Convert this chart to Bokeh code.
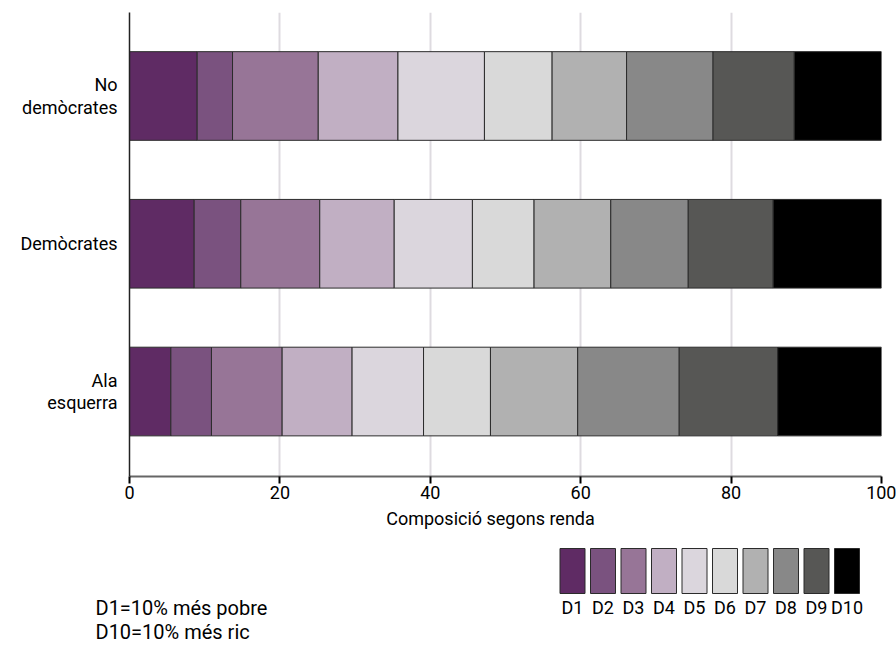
from bokeh.plotting import figure
from bokeh.models import Range1d, ColumnDataSource, FixedTicker
from bokeh.layouts import column
from bokeh.embed import file_html
from bokeh.resources import INLINE
from bokeh.core.properties import value

# ---------------- data ----------------
categories = ["No demòcrates", "Demòcrates", "Ala esquerra"]
category_labels = ["No\ndemòcrates", "Demòcrates", "Ala\nesquerra"]
deciles = ["D1", "D2", "D3", "D4", "D5", "D6", "D7", "D8", "D9", "D10"]
no_democrates = [9.0, 4.7, 11.4, 10.6, 11.5, 9.0, 9.9, 11.5, 10.8, 11.6]
democrates = [8.6, 6.2, 10.5, 9.9, 10.4, 8.2, 10.2, 10.3, 11.3, 14.4]
ala_esquerra = [5.5, 5.4, 9.4, 9.3, 9.5, 8.9, 11.6, 13.5, 13.1, 13.8]
x_ticks = [0, 20, 40, 60, 80, 100]
x_title = "Composició segons renda"
notes = ["D1=10% més pobre", "D10=10% més ric"]

colors = ["#5f2b64", "#7a527f", "#977597", "#c1afc3", "#dbd6dd",
          "#d9d9d9", "#b1b1b1", "#888888", "#575755", "#000000"]
FONT = "Roboto"

series = [no_democrates, democrates, ala_esquerra]
ypos = [2, 1, 0]
data = {"y": ypos}
for i, d in enumerate(deciles):
    data[d] = [s[i] for s in series]
src = ColumnDataSource(data)

W = 896
H_TOP = 506
H_BOT = 138

# ---------------- main chart ----------------
p = figure(width=W, height=H_TOP,
           x_range=Range1d(0, 100), y_range=Range1d(-0.575, 2.565),
           output_backend="svg", toolbar_location=None,
           min_border_left=129, min_border_right=15,
           min_border_top=12, min_border_bottom=30)
p.frame_align = False
p.outline_line_color = None

p.hbar_stack(deciles, y="y", height=0.60, color=colors,
             line_color="#2b2b2b", line_width=1, source=src)

p.xaxis.ticker = FixedTicker(ticks=x_ticks)
p.xaxis.axis_line_color = "#666666"
p.xaxis.axis_line_width = 2
p.xaxis.major_tick_line_color = "black"
p.xaxis.major_tick_line_width = 2
p.xaxis.major_tick_out = 7
p.xaxis.major_tick_in = 0
p.xaxis.minor_tick_line_color = None
p.xaxis.major_label_text_font = FONT
p.xaxis.major_label_text_font_size = "18px"
p.xaxis.major_label_text_color = "black"
p.xaxis.major_label_standoff = 2

p.xgrid.ticker = FixedTicker(ticks=x_ticks[1:])
p.xgrid.grid_line_color = "#dedbe0"
p.xgrid.grid_line_width = 2
p.ygrid.grid_line_color = None

p.yaxis.ticker = FixedTicker(ticks=ypos)
p.yaxis.major_label_overrides = {y: lab for y, lab in zip(ypos, category_labels)}
p.yaxis.major_tick_out = 0
p.yaxis.major_tick_in = 0
p.yaxis.minor_tick_line_color = None
p.yaxis.axis_line_color = "#222222"
p.yaxis.axis_line_width = 1.5
p.yaxis.major_label_standoff = 12
p.yaxis.major_label_text_font = FONT
p.yaxis.major_label_text_font_size = "18px"
p.yaxis.major_label_text_line_height = 1.05
p.yaxis.major_label_text_color = "black"

# ---------------- axis title, legend, notes (page pixel coordinates) ----------------
q = figure(width=W, height=H_BOT, x_range=Range1d(0, W),
           y_range=Range1d(H_TOP + H_BOT, H_TOP),
           output_backend="svg", toolbar_location=None,
           x_axis_location=None, y_axis_location=None,
           min_border=0, min_border_left=0, min_border_right=0,
           min_border_top=0, min_border_bottom=0)
q.frame_align = False
q.outline_line_color = None
q.grid.visible = False

q.text(x=[490], y=[518], text=[x_title], text_align="center", text_baseline="middle",
       text_font=value(FONT), text_font_size="18px", text_color="black")

leg_x = [572 + 30.5 * i for i in range(len(deciles))]
leg = ColumnDataSource(dict(x=leg_x, label=deciles, color=colors))
q.rect(x="x", y=570.5, width=25, height=45, fill_color="color",
       line_color="#2b2b2b", line_width=1, source=leg)
q.text(x="x", y=607, text="label", source=leg, text_align="center",
       text_baseline="middle", text_font=value(FONT), text_font_size="18px",
       text_color="black")

q.text(x=[95, 95], y=[607, 631], text=notes, text_align="left", text_baseline="middle",
       text_font=value(FONT), text_font_size="20px", text_color="black")

layout = column(p, q, spacing=0)
open("out.html", "w").write(file_html(layout, INLINE))
